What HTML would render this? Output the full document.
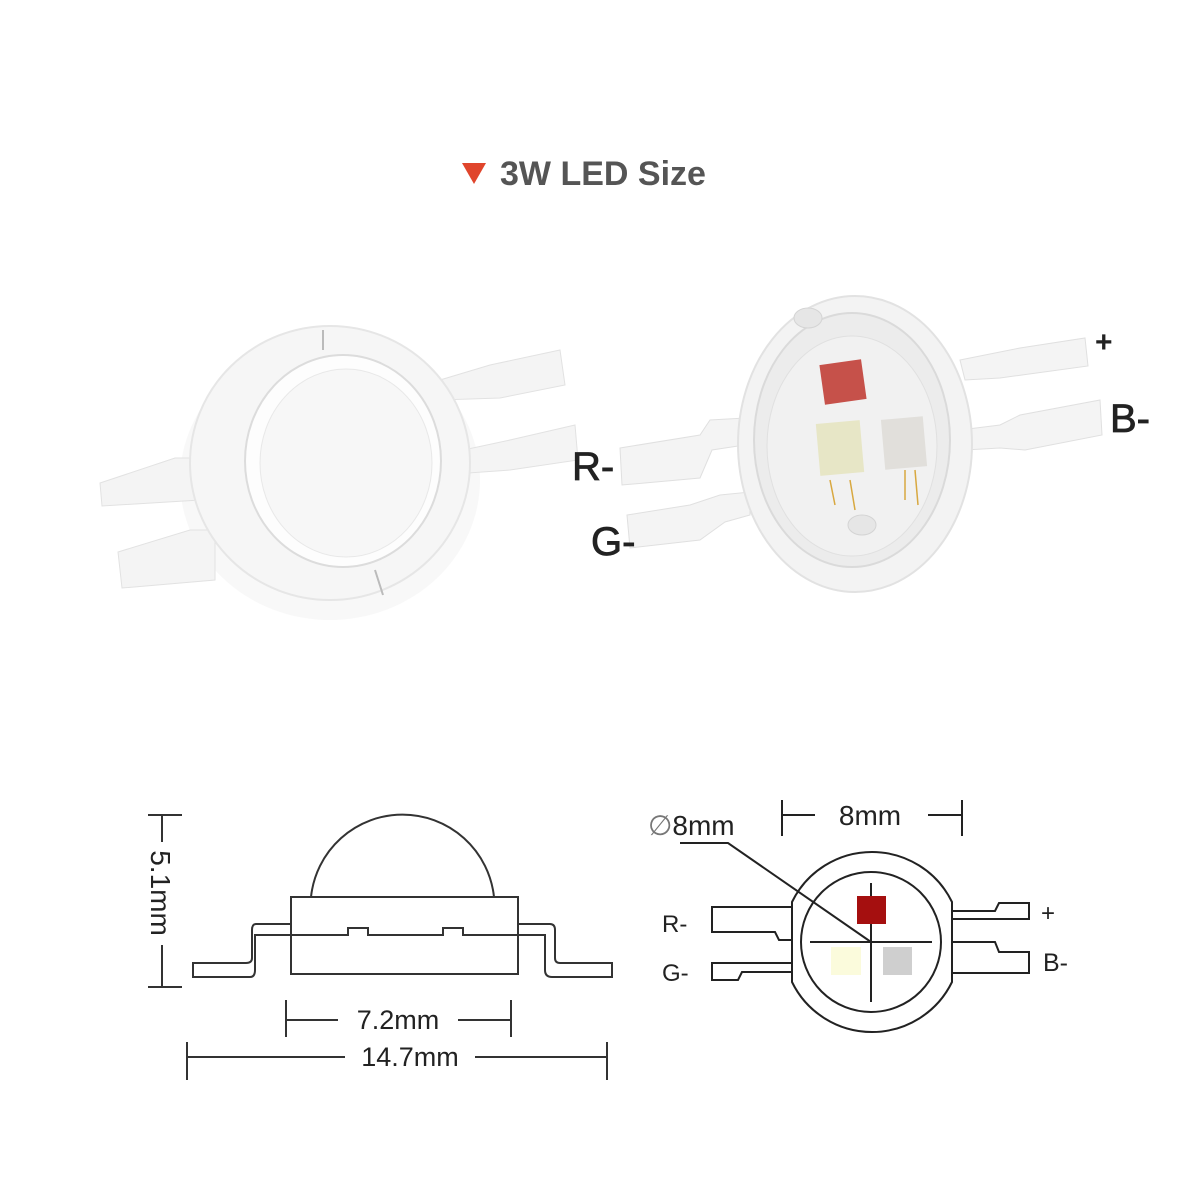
<!DOCTYPE html>
<html><head><meta charset="utf-8"><style>
html,body{margin:0;padding:0;background:#fff;}
svg{display:block}
</style></head><body>
<svg width="1200" height="1200" viewBox="0 0 1200 1200" xmlns="http://www.w3.org/2000/svg" font-family="Liberation Sans, Arial, sans-serif">
<rect width="1200" height="1200" fill="#fff"/>
<!-- title -->
<polygon points="462,163 486,163 474,184" fill="#e0452c"/>
<text x="500" y="185" font-size="34" font-weight="bold" fill="#555">3W LED Size</text>

<!-- left LED photo -->
<g>
 <ellipse cx="330" cy="480" rx="150" ry="140" fill="#f2f2f2" opacity="0.5"/>
 <polygon points="100,483 175,458 200,458 200,500 102,506" fill="#f4f4f4" stroke="#e2e2e2"/>
 <polygon points="118,552 190,530 215,530 215,580 122,588" fill="#f4f4f4" stroke="#e2e2e2"/>
 <polygon points="440,380 490,365 560,350 565,385 500,398 440,400" fill="#f4f4f4" stroke="#e2e2e2"/>
 <polygon points="440,455 510,440 575,425 578,460 510,470 440,475" fill="#f4f4f4" stroke="#e2e2e2"/>
 <ellipse cx="330" cy="463" rx="140" ry="137" fill="#f6f6f6" stroke="#e6e6e6" stroke-width="2"/>
 <ellipse cx="343" cy="461" rx="98" ry="106" fill="#fdfdfd" stroke="#dcdcdc" stroke-width="2"/>
 <ellipse cx="346" cy="463" rx="86" ry="94" fill="#f7f7f7" stroke="#e8e8e8"/>
 <line x1="323" y1="330" x2="323" y2="350" stroke="#bbb" stroke-width="2"/>
 <line x1="375" y1="570" x2="383" y2="595" stroke="#bbb" stroke-width="2"/>
</g>

<!-- right LED photo -->
<g>
 <polygon points="620,448 700,435 710,420 745,418 745,445 712,450 700,478 622,485" fill="#f4f4f4" stroke="#e0e0e0"/>
 <polygon points="627,515 690,505 720,495 750,492 750,515 725,522 700,540 630,548" fill="#f4f4f4" stroke="#e0e0e0"/>
 <polygon points="960,360 1000,352 1020,348 1085,338 1088,366 1022,375 1000,378 965,380" fill="#f4f4f4" stroke="#e0e0e0"/>
 <polygon points="960,430 1000,425 1020,415 1100,400 1102,435 1025,450 1000,448 965,450" fill="#f4f4f4" stroke="#e0e0e0"/>
 <ellipse cx="855" cy="444" rx="117" ry="148" fill="#f3f3f3" stroke="#e2e2e2" stroke-width="2"/>
 <ellipse cx="852" cy="440" rx="98" ry="127" fill="#ececec" stroke="#dadada" stroke-width="2"/>
 <ellipse cx="852" cy="446" rx="85" ry="110" fill="#f1f1f1" stroke="#e0e0e0"/>
 <ellipse cx="808" cy="318" rx="14" ry="10" fill="#e6e6e6" stroke="#d4d4d4"/>
 <ellipse cx="862" cy="525" rx="14" ry="10" fill="#e6e6e6" stroke="#d4d4d4"/>
 <rect x="822" y="362" width="42" height="40" fill="#c6514a" transform="rotate(-8 843 382)"/>
 <rect x="818" y="422" width="44" height="52" fill="#e7e6c6" transform="rotate(-5 840 448)"/>
 <rect x="883" y="418" width="42" height="50" fill="#e1dfdb" transform="rotate(-5 904 443)"/>
 <path d="M830 480 L835 505 M850 480 L855 510 M905 470 L905 500 M915 470 L918 505" stroke="#d8a840" stroke-width="1.5"/>
</g>
<text x="1095" y="352" font-size="30" font-weight="bold" fill="#222">+</text>
<text x="1110" y="432" font-size="40" fill="#222" stroke="#222" stroke-width="0.8">B-</text>
<text x="572" y="480" font-size="40" fill="#222" stroke="#222" stroke-width="0.8">R-</text>
<text x="591" y="555" font-size="40" fill="#222" stroke="#222" stroke-width="0.8">G-</text>

<!-- left drawing -->
<g fill="none" stroke="#333" stroke-width="2">
 <path d="M311,897 A92,92 0 0 1 494,897"/>
 <rect x="291" y="897" width="227" height="77"/>
 <path d="M291,924 H256 Q252,924 252,930 V958 Q252,963 246,963 H193 V977 H250 Q255,977 255,970 V935 H348 V928 H368 V935 H443 V928 H463 V935 H545 V970 Q545,977 552,977 H612 V963 H560 Q555,963 555,958 V930 Q555,924 550,924 H518"/>
 <path d="M162,815 V842 M162,945 V987 M148,815 H182 M148,987 H182"/>
 <path d="M286,1000 V1037 M511,1000 V1037 M286,1020 H338 M458,1020 H511"/>
 <path d="M187,1042 V1080 M607,1042 V1080 M187,1057 H345 M475,1057 H607"/>
</g>
<text x="398" y="1029" font-size="27" fill="#222" text-anchor="middle">7.2mm</text>
<text x="410" y="1066" font-size="27" fill="#222" text-anchor="middle">14.7mm</text>
<text transform="translate(151,893) rotate(90)" font-size="28" fill="#222" text-anchor="middle">5.1mm</text>

<!-- right drawing -->
<g fill="none" stroke="#222" stroke-width="2">
 <path d="M792,902 A89,89 0 0 1 952,902 V982 A89,89 0 0 1 792,982 Z"/>
 <circle cx="871" cy="942" r="70"/>
 <path d="M871,883 V1002 M810,942 H932"/>
 <path d="M680,843 H728 L871,942"/>
 <path d="M792,907 H712 V932 H775 L779,940 H792"/>
 <path d="M792,963 H712 V980 H738 L742,972 H792"/>
 <path d="M952,911 H995 L999,903 H1029 V919 H952"/>
 <path d="M952,942 H995 L999,952 H1029 V973 H952"/>
 <path d="M782,800 V836 M962,800 V836 M782,815 H815 M928,815 H962"/>
</g>
<rect x="857" y="896" width="29" height="28" fill="#a50f0f"/>
<rect x="831" y="947" width="30" height="28" fill="#fbfbdc"/>
<rect x="883" y="947" width="29" height="28" fill="#cfcfcf"/>
<text x="870" y="825" font-size="28" fill="#222" text-anchor="middle">8mm</text>
<text x="648" y="835" font-size="28" fill="#222"><tspan fill="#777">∅</tspan>8mm</text>
<text x="662" y="932" font-size="24" fill="#222">R-</text>
<text x="662" y="981" font-size="24" fill="#222">G-</text>
<text x="1041" y="921" font-size="24" fill="#222">+</text>
<text x="1043" y="971" font-size="25" fill="#222">B-</text>
</svg>
</body></html>
